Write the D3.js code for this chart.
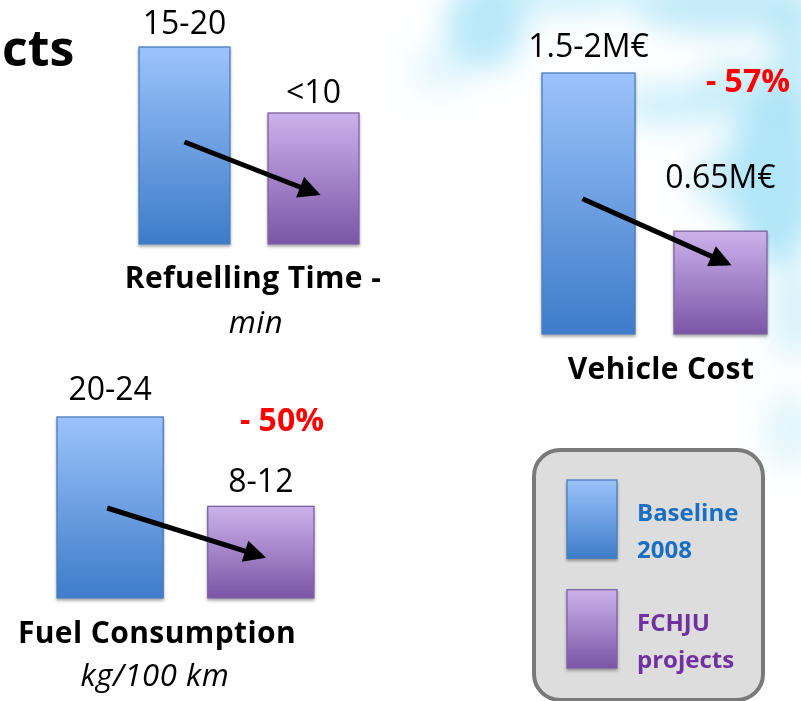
<!DOCTYPE html>
<html>
<head>
<meta charset="utf-8">
<script src="https://cdn.jsdelivr.net/npm/d3@7"></script>
<style>
  body { margin: 0; background: #fff; }
  svg { display: block; }
</style>
</head>
<body>
<script>
// ---- data ----
const series = ["Baseline 2008", "FCHJU projects"];
const metrics = ["Refuelling Time -", "Vehicle Cost", "Fuel Consumption"];
const units = ["min", "", "kg/100 km"];
const baselineValues = [15, 1.64, 22];
const fchjuValues = [10, 0.65, 11.2];
const baselineLabels = ["15-20", "1.5-2M€", "20-24"];
const fchjuLabels = ["<10", "0.65M€", "8-12"];
const changeLabels = ["", "- 57%", "- 50%"];
const legendLines = [["Baseline", "2008"], ["FCHJU", "projects"]];

// ---- layout of the three small charts ----
const panels = [
  { barX: [139, 359], base: 245, top: 47, axisX: [108, 390], labelGap: [13, 10],
    arrow: [0.52, 0.39], arrowDx: [0, 3], title: [253, 288], unit: [256, 333], change: null },
  { barX: [542, 767], base: 335, top: 73, axisX: [510, 801], labelGap: [16, 43],
    arrow: [0.52, 0.69], arrowDx: [-6, 7], title: [661, 379], unit: null, change: [748, 92] },
  { barX: [57, 314], base: 599, top: 417, axisX: [20, 350], labelGap: [17, 14],
    arrow: [0.5, 0.46], arrowDx: [-3, 1], title: [157, 643], unit: [155, 686], change: [282, 431] }
];

const W = 801, H = 701;
const FONT = "'Open Sans', 'Noto Sans', sans-serif";
const svg = d3.select("body").append("svg").attr("width", W).attr("height", H);
const defs = svg.append("defs");

// gradients for the two series
const grads = [
  { id: "gBlue", top: "#9cc3fb", bottom: "#3d7cc9", stroke: "#4a7dbd" },
  { id: "gPurple", top: "#ccb2ec", bottom: "#7b55a6", stroke: "#7d62a0" }
];
grads.forEach(g => {
  const lg = defs.append("linearGradient").attr("id", g.id)
    .attr("x1", 0).attr("y1", 0).attr("x2", 0).attr("y2", 1);
  lg.append("stop").attr("offset", "0%").attr("stop-color", g.top);
  lg.append("stop").attr("offset", "100%").attr("stop-color", g.bottom);
});
const color = d3.scaleOrdinal().domain(series).range(grads);

defs.append("filter").attr("id", "cloud").attr("x", "-50%").attr("y", "-50%")
  .attr("width", "200%").attr("height", "200%")
  .append("feGaussianBlur").attr("stdDeviation", 15);
const sh = defs.append("filter").attr("id", "shadow").attr("x", "-20%").attr("y", "-20%")
  .attr("width", "140%").attr("height", "150%");
sh.append("feDropShadow").attr("dx", 0).attr("dy", 2).attr("stdDeviation", 1.5)
  .attr("flood-color", "#000").attr("flood-opacity", 0.35);

defs.append("marker").attr("id", "head").attr("viewBox", "0 0 10 10")
  .attr("refX", 8).attr("refY", 5).attr("markerWidth", 4.8).attr("markerHeight", 4.4)
  .attr("markerUnits", "strokeWidth").attr("orient", "auto")
  .append("path").attr("d", "M0,0 L10,5 L0,10 Z").attr("fill", "#000");

// ---- soft sky background: a diagonal band of pale cyan ----
const bg = svg.append("g").attr("filter", "url(#cloud)");
[
  [485, 25, 40, 45, 0.8], [560, -10, 80, 25, 0.55], [720, 5, 90, 30, 0.7],
  [670, 105, 55, 22, 0.55], [735, 90, 40, 30, 0.55], [775, 175, 45, 90, 0.9],
  [720, 180, 28, 35, 0.5], [795, 60, 25, 70, 0.7], [795, 310, 25, 50, 0.45],
  [790, 430, 25, 40, 0.35], [440, 70, 30, 25, 0.3]
].forEach(([cx, cy, rx, ry, o]) => {
  bg.append("ellipse").attr("cx", cx).attr("cy", cy).attr("rx", rx).attr("ry", ry)
    .attr("fill", "#a9e3f7").attr("opacity", o);
});

// cut-off heading on the left
svg.append("text").attr("x", 2).attr("y", 66).attr("font-family", FONT)
  .attr("font-weight", 700).attr("font-size", 50).attr("fill", "#000").text("cts");

// ---- the three bar charts ----
metrics.forEach((m, i) => {
  const p = panels[i];
  const vals = [baselineValues[i], fchjuValues[i]];
  const labs = [baselineLabels[i], fchjuLabels[i]];
  const x = d3.scaleBand().domain(series).range(p.barX).paddingInner(0.295).paddingOuter(0);
  const y = d3.scaleLinear().domain([0, baselineValues[i]]).range([p.base, p.top]);
  const g = svg.append("g");

  // axis base line
  g.append("line").attr("x1", p.axisX[0]).attr("x2", p.axisX[1])
    .attr("y1", p.base + 0.5).attr("y2", p.base + 0.5)
    .attr("stroke", "#5286c4").attr("stroke-width", 5).attr("filter", "url(#shadow)");

  // bars
  g.selectAll("rect.bar").data(series).join("rect").attr("class", "bar")
    .attr("x", d => x(d)).attr("width", x.bandwidth())
    .attr("y", (d, j) => y(vals[j])).attr("height", (d, j) => y(0) - y(vals[j]) - 1)
    .attr("fill", d => `url(#${color(d).id})`).attr("stroke", d => color(d).stroke)
    .attr("stroke-width", 1.3).attr("filter", "url(#shadow)");

  // value labels
  g.selectAll("text.val").data(series).join("text").attr("class", "val")
    .attr("x", d => x(d) + x.bandwidth() / 2)
    .attr("y", (d, j) => y(vals[j]) - p.labelGap[j])
    .attr("text-anchor", "middle").attr("font-family", FONT).attr("font-size", 32)
    .attr("fill", "#000").text((d, j) => labs[j]);

  // trend arrow
  const x0 = x(series[0]) + x.bandwidth() / 2 + p.arrowDx[0];
  const x1 = x(series[1]) + x.bandwidth() / 2 + p.arrowDx[1];
  g.append("line").attr("x1", x0).attr("y1", y(vals[0] * p.arrow[0]))
    .attr("x2", x1).attr("y2", y(vals[1] * p.arrow[1]))
    .attr("stroke", "#000").attr("stroke-width", 5).attr("marker-end", "url(#head)");

  // titles
  g.append("text").attr("x", p.title[0]).attr("y", p.title[1]).attr("text-anchor", "middle")
    .attr("font-family", FONT).attr("font-weight", 700).attr("font-size", 30)
    .attr("letter-spacing", 0.4).attr("fill", "#000").text(m);
  if (p.unit) {
    g.append("text").attr("x", p.unit[0]).attr("y", p.unit[1]).attr("text-anchor", "middle")
      .attr("font-family", FONT).attr("font-style", "italic").attr("font-size", 31)
      .attr("letter-spacing", 0.6).attr("fill", "#000").text(units[i]);
  }
  if (p.change) {
    g.append("text").attr("x", p.change[0]).attr("y", p.change[1]).attr("text-anchor", "middle")
      .attr("font-family", FONT).attr("font-weight", 700).attr("font-size", 32)
      .attr("fill", "#ff0000").text(changeLabels[i]);
  }
});

// ---- legend ----
const lg = svg.append("g");
lg.append("rect").attr("x", 534).attr("y", 450).attr("width", 229).attr("height", 250)
  .attr("rx", 26).attr("fill", "#dddddd").attr("stroke", "#7a7a7a").attr("stroke-width", 4);
const ly = d3.scaleBand().domain(series).range([480, 668]).paddingInner(0.286);
const textColors = ["#1a6fc2", "#7030a0"];
series.forEach((s, j) => {
  lg.append("rect").attr("x", 567).attr("y", ly(s)).attr("width", 50).attr("height", ly.bandwidth())
    .attr("fill", `url(#${color(s).id})`).attr("stroke", color(s).stroke).attr("stroke-width", 1.3)
    .attr("filter", "url(#shadow)");
  legendLines[j].forEach((t, k) => {
    lg.append("text").attr("x", 637).attr("y", ly(s) + 41 + k * 37)
      .attr("font-family", FONT).attr("font-weight", 700).attr("font-size", 24)
      .attr("fill", textColors[j]).text(t);
  });
});
</script>
</body>
</html>
